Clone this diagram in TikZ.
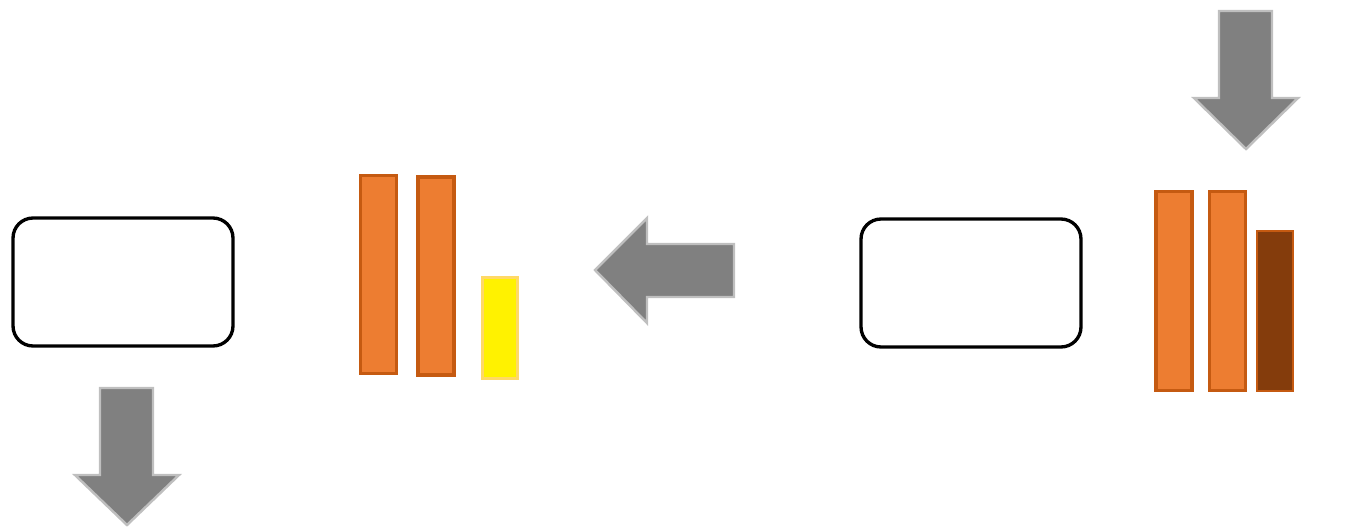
\documentclass[tikz,border=0pt]{standalone}
\usetikzlibrary{shapes,arrows,positioning}
\definecolor{orangefill}{RGB}{237,125,49}
\definecolor{orangeline}{RGB}{197,90,17}
\definecolor{brownfill}{RGB}{132,60,12}
\definecolor{yellowline}{RGB}{255,217,102}
\definecolor{arrowfill}{RGB}{128,128,128}
\definecolor{arrowline}{RGB}{191,191,191}

\begin{document}
\begin{tikzpicture}[x=0.02cm, y=-0.02cm,
	box/.style={rectangle, rounded corners=0.4cm, draw=black, line width=1.9pt, minimum width=4.4cm, minimum height=2.56cm, inner sep=0pt},
	obar/.style={rectangle, draw=orangeline, fill=orangefill, line width=1.9pt, minimum width=0.72cm, inner sep=0pt},
	dbar/.style={obar, fill=brownfill, line width=1.3pt},
	ybar/.style={rectangle, draw=yellowline, fill=yellow, line width=1.2pt, minimum width=0.7cm, inner sep=0pt},
	blockarrow/.style={draw=arrowline, fill=arrowfill, line width=1.4pt}]
	\useasboundingbox (0,0) rectangle (1370,528);
	% rounded boxes
	\node[box] (boxL) at (123,282) {};
	\node[box] (boxR) at (971,283) {};
	% bars, left group
	\node[obar, minimum height=3.96cm] (barL1) at (378.5,274.5) {};
	\node[obar, minimum height=3.96cm] (barL2) at (436,276) {};
	\node[ybar, minimum height=2.02cm] (barL3) at (500,328) {};
	% bars, right group
	\node[obar, minimum height=3.98cm] (barR1) at (1174,291) {};
	\node[obar, minimum height=3.98cm] (barR2) at (1227.5,291) {};
	\node[dbar, minimum height=3.2cm] (barR3) at (1275,311) {};
	% block arrows
	\draw[blockarrow] (1219,11) -- (1272,11) -- (1272,98) -- (1298,98) -- (1246,149) -- (1194,98) -- (1219,98) -- cycle;
	\draw[blockarrow] (100,388) -- (153,388) -- (153,475) -- (179,475) -- (127,525) -- (75,475) -- (100,475) -- cycle;
	\draw[blockarrow] (734,244) -- (734,297) -- (647,297) -- (647,323) -- (595,270) -- (647,218) -- (647,244) -- cycle;
\end{tikzpicture}
\end{document}
